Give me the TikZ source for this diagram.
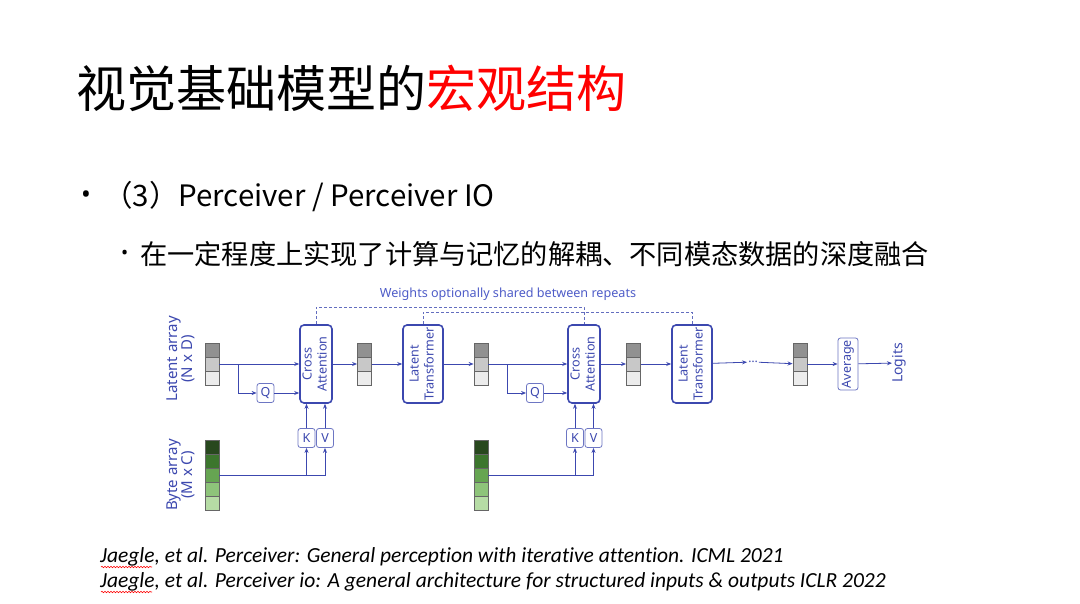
\documentclass[tikz,border=0pt]{standalone}
\usepackage{fontspec}
\setmainfont{Noto Sans CJK SC}
\newfontfamily\diagfont{Noto Sans}
\newfontfamily\citefont[Ligatures=NoCommon]{Carlito}
\usetikzlibrary{arrows.meta, positioning, decorations.pathmorphing}
\definecolor{lineblue}{RGB}{60,72,175}
\definecolor{textblue}{RGB}{78,92,200}
\definecolor{titlered}{RGB}{255,0,0}
\definecolor{gray1}{RGB}{145,145,145}
\definecolor{gray2}{RGB}{200,200,200}
\definecolor{gray3}{RGB}{236,236,236}
\definecolor{green1}{RGB}{40,72,30}
\definecolor{green2}{RGB}{60,118,45}
\definecolor{green3}{RGB}{102,165,82}
\definecolor{green4}{RGB}{142,196,122}
\definecolor{green5}{RGB}{182,220,165}
\newcommand{\latentcol}[3]{%
  \foreach \c [count=\i] in {gray1,gray2,gray3}
    \node[cell, fill=\c] (#1-\i) at (#2,{#3+14*(\i-1)}) {};
}
\newcommand{\bytecol}[3]{%
  \foreach \c [count=\i] in {green1,green2,green3,green4,green5}
    \node[cell, fill=\c] (#1-\i) at (#2,{#3+14*(\i-1)}) {};
}
\tikzset{
  block/.style={draw=lineblue, line width=1.6pt, rounded corners=4pt,
    minimum width=32pt, minimum height=78pt, inner sep=0pt, align=center,
    text=lineblue, font=\diagfont\fontsize{12.6}{15}\selectfont},
  smallbox/.style={draw=lineblue!75, line width=0.8pt, rounded corners=2.5pt,
    minimum width=17pt, minimum height=19pt, inner sep=0pt, text=lineblue,
    font=\diagfont\fontsize{12.5}{12.5}\selectfont},
  cell/.style={draw=black!60, line width=0.8pt, minimum width=14pt,
    minimum height=14pt, inner sep=0pt},
  flow/.style={-{Stealth[length=5pt,width=4pt]}, lineblue, line width=0.8pt},
  shared/.style={lineblue!80, dash pattern=on 3pt off 2pt, line width=0.8pt},
  sidelabel/.style={rotate=90, align=center, text=lineblue, inner sep=0pt,
    font=\diagfont\fontsize{15}{15}\selectfont},
  typo/.style={decorate, decoration={snake, segment length=3pt, amplitude=0.7pt},
    red, line width=0.6pt}
}
\begin{document}
\begin{tikzpicture}[x=1pt, y=-1pt]
  \useasboundingbox[fill=white] (0,0) rectangle (1080,604);

  % Title and bullets
  \node[anchor=west, inner sep=0pt, font=\fontsize{50}{50}\selectfont] (title)
    at (76,88) {视觉基础模型的\textcolor{titlered}{宏观结构}};
  \node[anchor=west, inner sep=0pt, font=\diagfont\fontsize{26}{26}\selectfont] (bullet)
    at (81,197) {•};
  \node[anchor=west, inner sep=0pt, font=\fontsize{29.5}{29.5}\selectfont] (item)
    at (103,197) {（3）Perceiver / Perceiver IO};
  \node[anchor=west, inner sep=0pt, font=\diagfont\fontsize{19}{19}\selectfont] (subbullet)
    at (121,255) {•};
  \node[anchor=west, inner sep=0pt, font=\fontsize{27.2}{27.2}\selectfont] (subitem)
    at (140,254) {在一定程度上实现了计算与记忆的解耦、不同模态数据的深度融合};

  % Latent and byte arrays
  \latentcol{la1}{212}{350}
  \latentcol{la2}{364.5}{350}
  \latentcol{la3}{481}{350}
  \latentcol{la4}{633.5}{350}
  \latentcol{la5}{800}{350}
  \bytecol{ba1}{212}{447}
  \bytecol{ba2}{481}{447}

  \node[sidelabel] (latlabel) at (181,359) {Latent array\\(N x D)};
  \node[sidelabel] (bytelabel) at (181,475) {Byte array\\(M x C)};

  % Blocks
  \node[block] (ca1) at (316,364) {\rotatebox{90}{\begin{tabular}{@{}c@{}}Cross\\Attention\end{tabular}}};
  \node[block, minimum width=40pt] (lt1) at (423,364)
    {\rotatebox{90}{\begin{tabular}{@{}c@{}}Latent\\Transformer\end{tabular}}};
  \node[block] (ca2) at (584,364) {\rotatebox{90}{\begin{tabular}{@{}c@{}}Cross\\Attention\end{tabular}}};
  \node[block, minimum width=40pt] (lt2) at (692,364)
    {\rotatebox{90}{\begin{tabular}{@{}c@{}}Latent\\Transformer\end{tabular}}};
  \node[smallbox, minimum width=20pt, minimum height=52pt] (avg) at (848,364)
    {\rotatebox{90}{Average}};
  \node[sidelabel, font=\diagfont\fontsize{14}{14}\selectfont] (logits) at (899,363) {Logits};
  \node[text=lineblue, inner sep=1pt, font=\diagfont\fontsize{12}{12}\selectfont]
    (dots) at (753,362) {…};

  \node[smallbox] (q1) at (265.5,393) {Q};
  \node[smallbox] (k1) at (306.5,438) {K};
  \node[smallbox] (v1) at (325,438) {V};
  \node[smallbox] (q2) at (535,393) {Q};
  \node[smallbox] (k2) at (575,438) {K};
  \node[smallbox] (v2) at (593.5,438) {V};

  % Main flow
  \draw[flow] (la1-2) -- (ca1);
  \draw[flow] (ca1) -- (la2-2);
  \draw[flow] (la2-2) -- (lt1);
  \draw[flow] (lt1) -- (la3-2);
  \draw[flow] (la3-2) -- (ca2);
  \draw[flow] (ca2) -- (la4-2);
  \draw[flow] (la4-2) -- (lt2);
  \draw[flow] (lt2) -- (dots);
  \draw[flow] (dots) -- (la5-2);
  \draw[flow] (la5-2) -- (avg);
  \draw[flow] (avg) -- (logits);

  % Queries
  \coordinate (qj1) at (238,364);
  \coordinate (qj2) at (507,364);
  \draw[flow] (qj1) |- (q1);
  \draw[flow] (qj2) |- (q2);
  \draw[flow] (q1) -- (q1 -| ca1.west);
  \draw[flow] (q2) -- (q2 -| ca2.west);

  % Keys and values
  \foreach \n in {1,2} {
    \coordinate (kj\n) at (k\n |- ba\n-3);
    \draw[flow] (ba\n-3) -| (v\n);
    \draw[flow] (kj\n) -- (k\n);
    \draw[flow] (k\n) -- (k\n |- ca\n.south);
    \draw[flow] (v\n) -- (v\n |- ca\n.south);
  }

  % Shared weights
  \draw[shared] (ca1.north) -- ++(0,-17) -| (ca2.north);
  \draw[shared] (lt1.north) -- ++(0,-12) -| (lt2.north);
  \node[text=textblue, font=\diagfont\fontsize{12.6}{13}\selectfont] (shared)
    at (508,294) {Weights optionally shared between repeats};

  % References
  \node[anchor=west, inner sep=0pt, font=\citefont\itshape\fontsize{21.5}{21.5}\selectfont] (ref1)
    at (100,557) {Jaegle, et al. Perceiver: General perception with iterative attention. ICML 2021};
  \node[anchor=west, inner sep=0pt, font=\citefont\itshape\fontsize{21.5}{21.5}\selectfont] (ref2)
    at (100,582) {Jaegle, et al. Perceiver io: A general architecture for structured inputs \& outputs ICLR 2022};
  \draw[typo] (101,567) -- (152,567);
  \draw[typo] (101,592) -- (152,592);
\end{tikzpicture}
\end{document}
